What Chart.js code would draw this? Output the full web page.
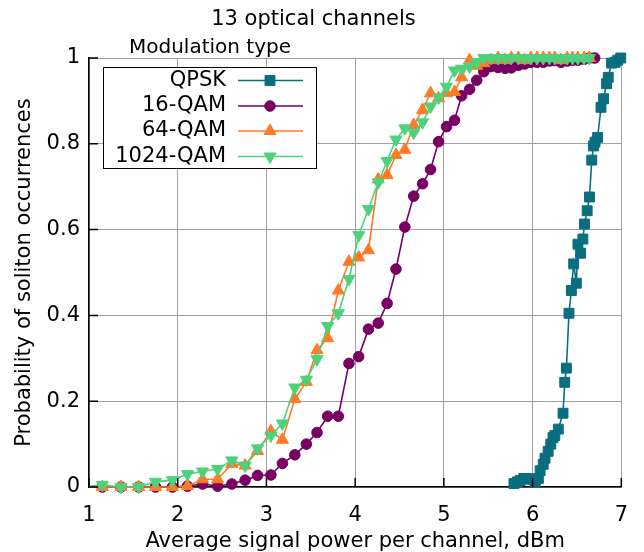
<!DOCTYPE html>
<html><head><meta charset="utf-8">
<script src="https://cdn.jsdelivr.net/npm/chart.js@4"></script>
<style>html,body{margin:0;padding:0;background:#fff;}#wrap{width:644px;height:552px;}</style>
</head><body><div id="wrap"><canvas id="c" width="644" height="552"></canvas></div>
<script>
// ---- data ----
const powerGrid = [0.93,1.15,1.36,1.56,1.75,1.94,2.11,2.28,2.45,2.61,2.76,2.90,3.05,3.18,3.32,3.45,3.57,3.69,3.81,3.93,4.04,4.15,4.26,4.36,4.46,4.56,4.66,4.76,4.85,4.94,5.03,5.12,5.20,5.29,5.37,5.45,5.53,5.61,5.69,5.76,5.84,5.91,5.98,6.05,6.12,6.19,6.25,6.32,6.39,6.45,6.51,6.58,6.64,6.70];
const prob16QAM = [0,0,0,0,0,0,0.002,0.007,0.002,0.007,0.016,0.027,0.028,0.055,0.075,0.10,0.127,0.165,0.165,0.288,0.304,0.368,0.382,0.428,0.508,0.606,0.678,0.707,0.74,0.805,0.84,0.855,0.912,0.927,0.948,0.968,0.98,0.978,0.976,0.977,0.983,0.986,0.99,0.99,0.99,0.993,0.994,0.99,0.993,0.995,0.995,0.997,1,1];
const prob64QAM = [0,0,0,0,0,0,0.002,0.018,0.018,0.054,0.05,0.084,0.13,0.11,0.205,0.245,0.319,0.347,0.458,0.525,0.535,0.552,0.717,0.727,0.774,0.786,0.844,0.879,0.918,0.906,0.918,0.921,0.955,0.995,0.982,0.988,0.995,1,0.995,1,1,0.995,1,1,1,1,1,0.995,1,1,1,1,1];
const prob1024QAM = [0,0.005,0,0,0.012,0.016,0.03,0.036,0.042,0.062,0.05,0.09,0.12,0.148,0.232,0.25,0.298,0.375,0.405,0.485,0.587,0.648,0.71,0.76,0.81,0.836,0.826,0.85,0.887,0.908,0.933,0.971,0.975,0.98,0.99,1,1,1,1,1,1,1,1,1,1,1,1,1,1,1,1,1,1];
const powerQPSK = [5.79,5.83,5.86,5.90,5.94,5.98,6.03,6.065,6.085,6.12,6.14,6.175,6.205,6.23,6.25,6.29,6.343,6.362,6.381,6.41,6.437,6.463,6.493,6.511,6.541,6.567,6.585,6.615,6.641,6.667,6.686,6.704,6.733,6.771,6.80,6.834,6.853,6.89,6.93,6.96,6.994];
const probQPSK = [0.008,0.012,0.015,0.02,0.02,0.018,0.012,0.02,0.038,0.053,0.067,0.083,0.10,0.115,0.12,0.135,0.172,0.244,0.277,0.405,0.458,0.52,0.475,0.566,0.545,0.578,0.613,0.644,0.676,0.762,0.795,0.804,0.815,0.885,0.905,0.94,0.955,0.988,0.99,0.995,1.0];
const xTicks = [1,2,3,4,5,6,7];
const yTicks = [0,0.2,0.4,0.6,0.8,1];
const seriesNames = ['QPSK','16-QAM','64-QAM','1024-QAM'];
const seriesColors = ['#0a6e80','#790062','#ff7b25','#4dd27b'];

const FONT = '"DejaVu Sans", sans-serif';
const toPts = (xs, ys) => ys.map((y,i)=>({x: xs[i], y}));

const markerStyles = [
  {pointStyle:'rect', pointRadius:7, rotation:0},
  {pointStyle:'circle', pointRadius:5.3, rotation:0},
  {pointStyle:'triangle', pointRadius:7, rotation:0},
  {pointStyle:'triangle', pointRadius:7, rotation:180}
];
const seriesData = [
  toPts(powerQPSK, probQPSK),
  toPts(powerGrid, prob16QAM),
  toPts(powerGrid, prob64QAM),
  toPts(powerGrid, prob1024QAM)
];

const datasets = seriesNames.map((name,i)=>({
  label: name,
  data: seriesData[i],
  borderColor: seriesColors[i],
  backgroundColor: seriesColors[i],
  pointBackgroundColor: seriesColors[i],
  pointBorderColor: seriesColors[i],
  pointBorderWidth: 1,
  borderWidth: 1.6,
  pointStyle: markerStyles[i].pointStyle,
  pointRadius: markerStyles[i].pointRadius,
  rotation: markerStyles[i].rotation,
  tension: 0,
  order: 3 - i,
  clip: {left: 0, top: 14, right: 14, bottom: 14}
}));

const innerTicks = {
  id: 'innerTicks',
  afterDatasetsDraw(chart){
    const {ctx, chartArea, scales:{x, y}} = chart;
    ctx.save();
    ctx.strokeStyle = '#000';
    ctx.lineWidth = 1.5;
    ctx.beginPath();
    yTicks.forEach(v=>{
      const py = y.getPixelForValue(v);
      ctx.moveTo(chartArea.left, py); ctx.lineTo(chartArea.left + 9, py);
    });
    xTicks.forEach(v=>{
      const px = x.getPixelForValue(v);
      ctx.moveTo(px, chartArea.bottom); ctx.lineTo(px, chartArea.bottom - 9);
    });
    ctx.stroke();
    ctx.restore();
  }
};

const keyBox = {
  id: 'keyBox',
  afterDraw(chart){
    const ctx = chart.ctx;
    ctx.save();
    const bx = 103.5, by = 67.5, bw = 213, bh = 101;
    ctx.fillStyle = '#fff';
    ctx.fillRect(bx, by, bw, bh);
    ctx.strokeStyle = '#000';
    ctx.lineWidth = 1;
    ctx.strokeRect(bx, by, bw, bh);
    ctx.fillStyle = '#000';
    ctx.font = '20px ' + FONT;
    ctx.textAlign = 'center';
    ctx.textBaseline = 'middle';
    ctx.fillText('Modulation type', 210, 48);
    ctx.font = '21px ' + FONT;
    ctx.textAlign = 'right';
    const rows = [80.5, 106, 131, 156.5];
    chart.data.datasets.forEach((ds, i)=>{
      const yy = rows[i];
      ctx.fillStyle = '#000';
      ctx.fillText(ds.label, 226, yy);
      ctx.strokeStyle = ds.borderColor;
      ctx.lineWidth = 1.6;
      ctx.beginPath(); ctx.moveTo(238, yy); ctx.lineTo(303, yy); ctx.stroke();
      ctx.fillStyle = ds.pointBackgroundColor;
      ctx.strokeStyle = ds.pointBorderColor;
      ctx.lineWidth = 1;
      Chart.helpers.drawPoint(ctx, {pointStyle: ds.pointStyle, radius: ds.pointRadius, rotation: ds.rotation, borderWidth: 1}, 270, yy);
    });
    ctx.restore();
  }
};

new Chart(document.getElementById('c'), {
  type: 'line',
  data: { datasets },
  plugins: [innerTicks, keyBox],
  options: {
    responsive: false,
    animation: false,
    devicePixelRatio: 1,
    layout: { padding: { left: 0, right: 17, top: 0, bottom: 0 } },
    plugins: {
      legend: { display: false },
      tooltip: { enabled: false },
      title: {
        display: true,
        text: '13 optical channels',
        color: '#000',
        font: { family: FONT, size: 21, weight: 'normal' },
        padding: { top: 6.5, bottom: 26.3 }
      }
    },
    scales: {
      x: {
        type: 'linear',
        min: 1, max: 7,
        afterBuildTicks: s => { s.ticks = xTicks.map(v=>({value:v})); },
        afterFit: s => { s.height = 65; },
        ticks: { color:'#000', font:{family: FONT, size: 21}, padding: 16, callback: v => String(v), maxRotation: 0 },
        grid: { color: '#a0a0a0', lineWidth: 1, drawTicks: false },
        border: { display: true, color: '#000', width: 1.5 },
        title: { display: true, text: 'Average signal power per channel, dBm', color:'#000', font:{family: FONT, size: 21}, padding: {top: 0, bottom: -2} }
      },
      y: {
        min: 0, max: 1,
        afterBuildTicks: s => { s.ticks = yTicks.map(v=>({value:v})); },
        afterFit: s => { s.width = 89; },
        ticks: { color:'#000', font:{family: FONT, size: 21}, padding: 9, callback: v => String(v) },
        grid: { color: '#a0a0a0', lineWidth: 1, drawTicks: false },
        border: { display: true, color: '#000', width: 1.5 },
        title: { display: true, text: 'Probability of soliton occurrences', color:'#000', font:{family: FONT, size: 21}, padding: {top: 12, bottom: 0} }
      }
    }
  }
});
</script>
</body></html>
